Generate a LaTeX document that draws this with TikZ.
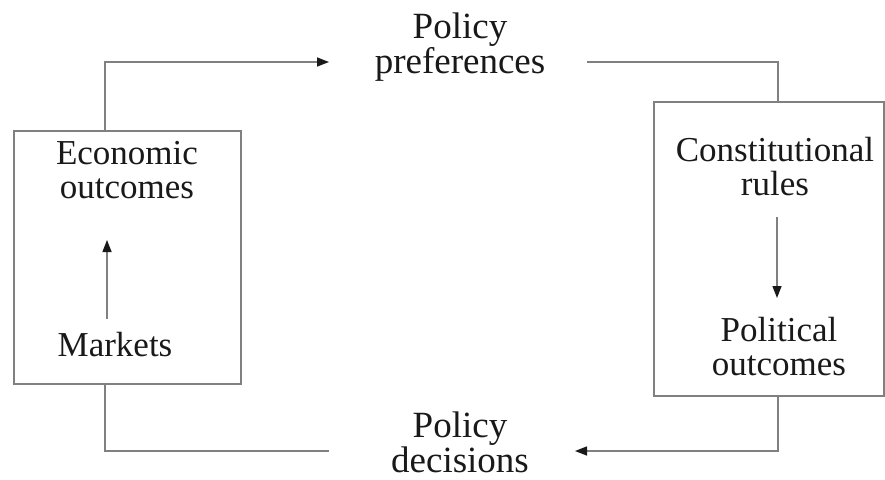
\documentclass[tikz,border=0pt]{standalone}
\usepackage{fontspec}
\setmainfont{Liberation Serif}
\usetikzlibrary{arrows.meta,calc}
\begin{document}
\begin{tikzpicture}[x=1pt,y=-1pt,
  linec/.style={draw=black!50, line width=1.4pt},
  arr/.style={linec, -{Triangle[length=12pt,width=9pt,color=black!90]}},
  frame/.style={linec, minimum width=#1, inner sep=0pt},
  lbl/.style={align=center, font=\fontsize{35}{34}\selectfont, text=black!90, inner sep=0pt},
  plbl/.style={align=center, font=\fontsize{37}{35}\selectfont, text=black!90, inner sep=0pt}]
\useasboundingbox (0,0) rectangle (885,479);
% boxes
\node[frame=227pt, minimum height=253pt] (lbox) at (127.5,257.5) {};
\node[frame=230pt, minimum height=294pt] (rbox) at (769,249) {};
% labels
\node[plbl] (pp) at (460,47) {Policy\\preferences};
\node[plbl] (pd) at (460,442) {Policy\\decisions};
\node[lbl] (eo) at (127,170) {Economic\\outcomes};
\node[lbl] (mk) at (115,345) {Markets};
\node[lbl] (cr) at (775,167) {Constitutional\\rules};
\node[lbl] (po) at (779,347) {Political\\outcomes};
% connector endpoints
\coordinate (lt) at (105,131);
\coordinate (lb) at (105,384);
\coordinate (rt) at (778,102);
\coordinate (rb) at (778,396);
\coordinate (ppin) at (329,62);
\coordinate (ppout) at (587,62);
\coordinate (pdin) at (575,451);
\coordinate (pdout) at (329,451);
\coordinate (ma) at (107,319);
\coordinate (mb) at (107,240);
\coordinate (ca) at (777,217);
\coordinate (cb) at (777,298);
% connectors
\draw[arr] (lt) |- (ppin);
\draw[linec] (ppout) -| (rt);
\draw[arr] (rb) |- (pdin);
\draw[linec] (pdout) -| (lb);
\draw[arr] (ma) -- (mb);
\draw[arr] (ca) -- (cb);
\end{tikzpicture}
\end{document}
